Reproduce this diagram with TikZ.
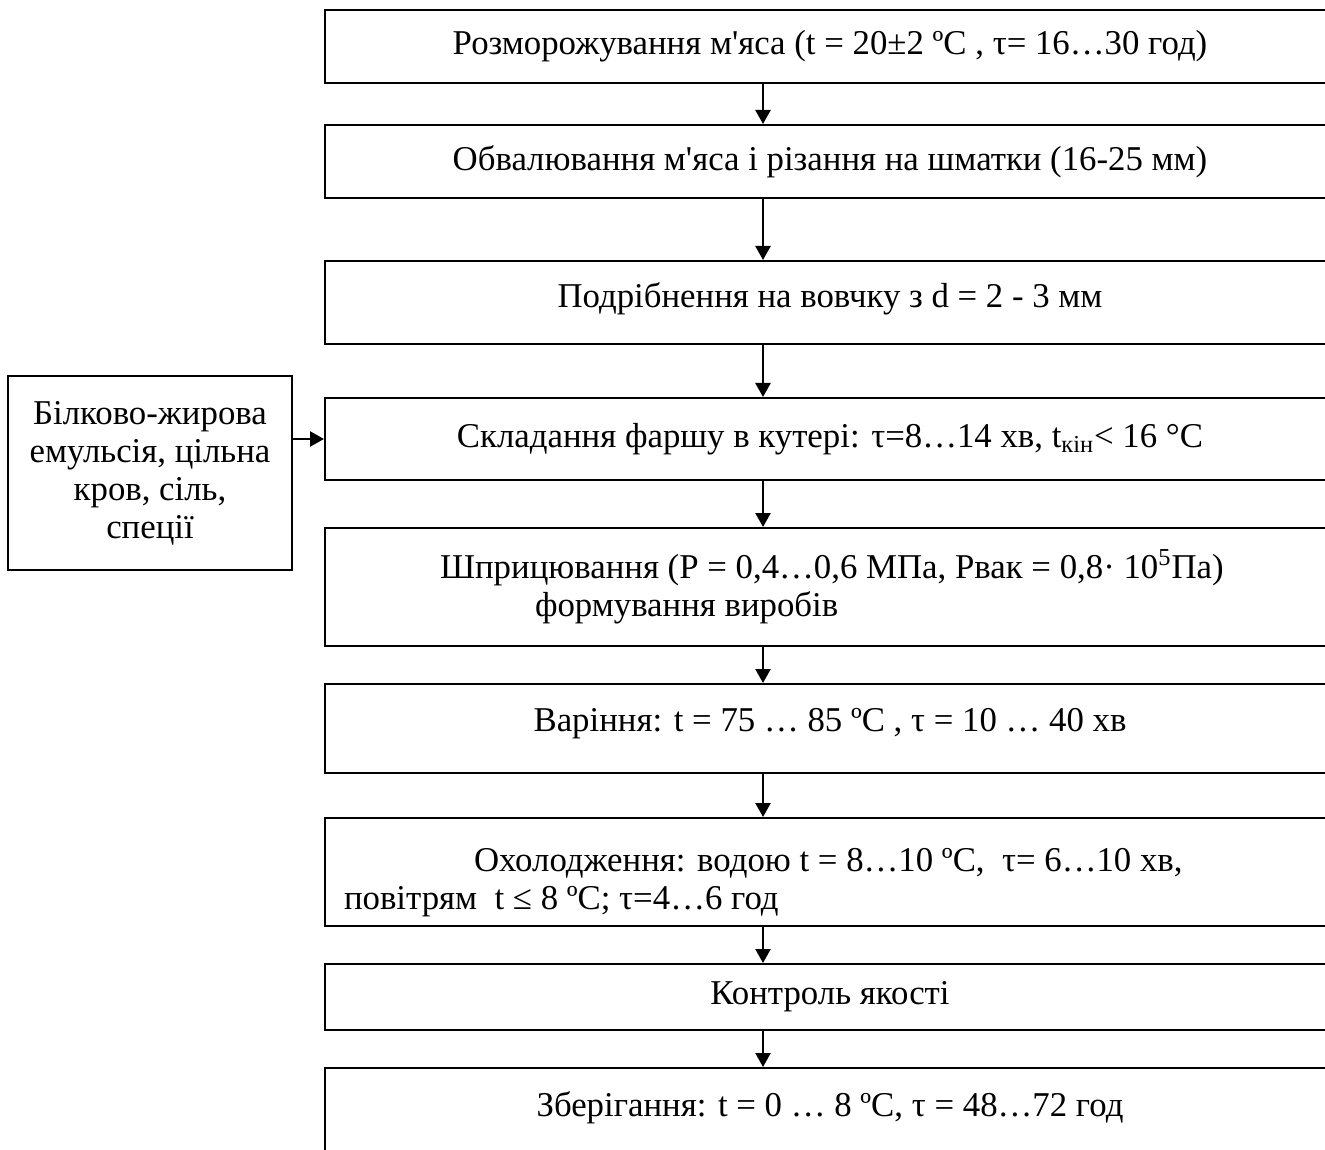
\documentclass[tikz,border=0pt]{standalone}
\usepackage{fontspec}
\setmainfont{Liberation Serif}
\usetikzlibrary{arrows.meta}
\begin{document}
\begin{tikzpicture}[x=0.5pt,y=-0.5pt,
  txt/.style={font=\fontsize{17.4}{19}\selectfont},
  box/.style={draw, line width=1pt, minimum width=505pt, inner sep=0pt, txt},
  wbox/.style={box, text width=486pt, inner xsep=9.5pt, align=flush left},
  side/.style={draw, line width=1pt, minimum width=142pt, minimum height=97pt, inner sep=0pt, align=center, txt},
  arr/.style={line width=1.2pt, -{Triangle[length=7pt,width=7.5pt]}}]
\useasboundingbox (0,0) rectangle (1325,1149);
\clip (0,0) rectangle (1325,1149);
\coordinate (ax) at (763,0);
\node[box, minimum height=36.5pt] (b1) at (830,46.5) {Розморожування м\textquotesingle яса (t = 20±2 ºC , τ= 16…30 год)};
\node[box, minimum height=36.5pt] (b2) at (830,161.5) {Обвалювання м\textquotesingle яса і різання на шматки (16-25 мм)};
\node[box, minimum height=41.5pt] (b3) at (830,302.5) {Подрібнення на вовчку з d = 2 - 3 мм\rule[-7pt]{0pt}{7pt}};
\node[box, minimum height=41pt] (b4) at (830,439) {Складання фаршу в кутері: τ=8…14 хв, t\textsubscript{кін}< 16 °C};
\node[wbox, minimum height=59pt] (b5) at (830,587) {\hspace*{48pt}Шприцювання (P = 0,4…0,6 МПа, Рвак = 0,8· 10\textsuperscript{5}Па)\\\hspace*{95.5pt}формування виробів};
\node[box, minimum height=44.5pt] (b6) at (830,728.5) {Варіння: t = 75 … 85 ºC , τ = 10 … 40 хв\rule[-9pt]{0pt}{9pt}};
\node[wbox, minimum height=54pt] (b7) at (830,872) {\rule{0pt}{22pt}\hspace*{65pt}Охолодження: водою t = 8…10 ºC,~ τ= 6…10 хв,\\повітрям~ t ≤ 8 ºC; τ=4…6 год};
\node[box, minimum height=33pt] (b8) at (830,997) {Контроль якості};
\node[box, minimum height=46pt] (b9) at (830,1114) {Зберігання: t = 0 … 8 ºC, τ = 48…72 год\rule[-10pt]{0pt}{10pt}};
\node[side] (l) at (150,473) {Білково-жирова\\емульсія, цільна\\кров, сіль,\\спеції};
\draw[arr] (b1.south -| ax) -- (b2.north -| ax);
\draw[arr] (b2.south -| ax) -- (b3.north -| ax);
\draw[arr] (b3.south -| ax) -- (b4.north -| ax);
\draw[arr] (b4.south -| ax) -- (b5.north -| ax);
\draw[arr] (b5.south -| ax) -- (b6.north -| ax);
\draw[arr] (b6.south -| ax) -- (b7.north -| ax);
\draw[arr] (b7.south -| ax) -- (b8.north -| ax);
\draw[arr] (b8.south -| ax) -- (b9.north -| ax);
\draw[arr] (l.east |- b4.west) -- (b4.west);
\end{tikzpicture}
\end{document}
